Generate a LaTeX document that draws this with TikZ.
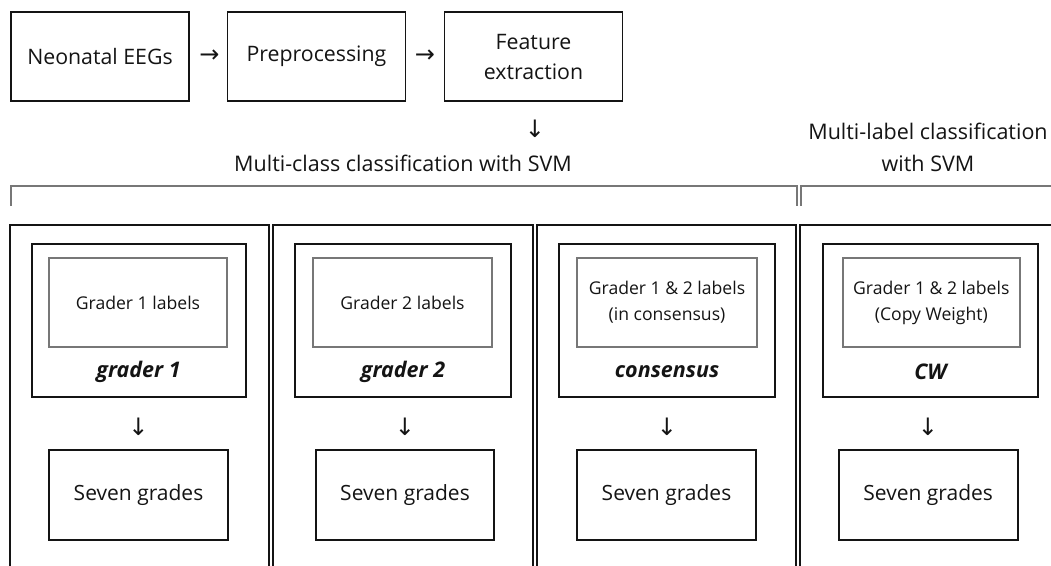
\documentclass[tikz,border=0pt]{standalone}
\usepackage{fontspec}
\setmainfont{Open Sans}
\newfontfamily\arrowfont{DejaVu Sans}
\definecolor{ink}{HTML}{141414}
\definecolor{graybox}{HTML}{777777}
\begin{document}
\begin{tikzpicture}[x=1pt,y=-1pt,
  every node/.style={inner sep=0pt, text=ink},
  topbox/.style={draw=ink, line width=1.7pt, minimum width=178pt, minimum height=89pt, align=center, font=\fontsize{21.3}{30}\selectfont},
  colbox/.style={draw=ink, line width=1.7pt},
  mbox/.style={draw=ink, line width=1.7pt},
  gbox/.style={draw=graybox, line width=1.8pt, align=center, font=\fontsize{17.6}{26}\selectfont},
  sbox/.style={draw=ink, line width=1.7pt, font=\fontsize{21}{26}\selectfont},
  tag/.style={font=\fontsize{21.5}{26}\selectfont\bfseries\itshape},
  arr/.style={font=\arrowfont\fontsize{24}{26}\selectfont},
  head/.style={font=\fontsize{21.5}{32}\selectfont, align=center},
  bracket/.style={draw=graybox, line width=1.5pt}
]
\useasboundingbox (0,0) rectangle (1051,565);
\clip (0,0) rectangle (1051,565);

% top row
\node[topbox] (eeg) at (100,56.5) {Neonatal EEGs};
\node[arr] (a1) at (209.5,56) {→};
\node[topbox] (pre) at (316.5,56.5) {Preprocessing};
\node[arr] (a2) at (425,56) {→};
\node[topbox] (feat) at (533.5,56.5) {Feature\\extraction};
\node[arr] (a3) at (535,129) {↓};

% headings
\node[head] (mc) at (403,163) {Multi-class classification with SVM};
\node[head] (ml) at (928,147) {Multi-label classification\\with SVM};

% brackets
\coordinate (b1a) at (11,206);
\coordinate (b1b) at (11,186);
\coordinate (b1c) at (797,186);
\coordinate (b1d) at (797,206);
\draw[bracket] (b1a) -- (b1b) -- (b1c) -- (b1d);
\coordinate (b2a) at (801,206);
\coordinate (b2b) at (801,186);
\coordinate (b2c) at (1060,186);
\draw[bracket] (b2a) -- (b2b) -- (b2c);

% columns
\node[colbox, minimum width=259.3pt, minimum height=380pt] (c1) at (139.65,415) {};
\node[colbox, minimum width=260pt, minimum height=380pt] (c2) at (403.3,415) {};
\node[colbox, minimum width=259.3pt, minimum height=380pt] (c3) at (666.35,415) {};
\node[colbox, minimum width=270pt, minimum height=380pt] (c4) at (935,415) {};

% column 1
\node[mbox, minimum width=214pt, minimum height=153pt] (m1) at (138.7,320.5) {};
\node[gbox, minimum width=177.4pt, minimum height=89pt] (g1) at (138,302.5) {Grader 1 labels};
\node[tag] (t1) at (138.5,372) {grader 1};
\node[arr] (d1) at (138.5,427) {↓};
\node[sbox, minimum width=178.4pt, minimum height=90pt] (s1) at (138.5,495) {Seven grades};

% column 2
\node[mbox, minimum width=215.7pt, minimum height=153pt] (m2) at (402.8,320.5) {};
\node[gbox, minimum width=178.4pt, minimum height=89pt] (g2) at (402.5,302.5) {Grader 2 labels};
\node[tag] (t2) at (403,372) {grader 2};
\node[arr] (d2) at (405,427) {↓};
\node[sbox, minimum width=178pt, minimum height=90pt] (s2) at (405,495) {Seven grades};

% column 3
\node[mbox, minimum width=215.7pt, minimum height=153pt] (m3) at (667,320.5) {};
\node[gbox, minimum width=179.4pt, minimum height=89pt] (g3) at (667,302.5) {Grader 1 \& 2 labels\\(in consensus)};
\node[tag] (t3) at (667,372) {consensus};
\node[arr] (d3) at (667,427) {↓};
\node[sbox, minimum width=179.6pt, minimum height=90pt] (s3) at (666.5,495) {Seven grades};

% column 4
\node[mbox, minimum width=214.4pt, minimum height=153pt] (m4) at (930.5,320.5) {};
\node[gbox, minimum width=177.3pt, minimum height=89pt] (g4) at (931.3,302.5) {Grader 1 \& 2 labels\\(Copy Weight)};
\node[tag] (t4) at (930.5,372) {CW};
\node[arr] (d4) at (928,427) {↓};
\node[sbox, minimum width=179pt, minimum height=90pt] (s4) at (928.2,495) {Seven grades};
\end{tikzpicture}
\end{document}
